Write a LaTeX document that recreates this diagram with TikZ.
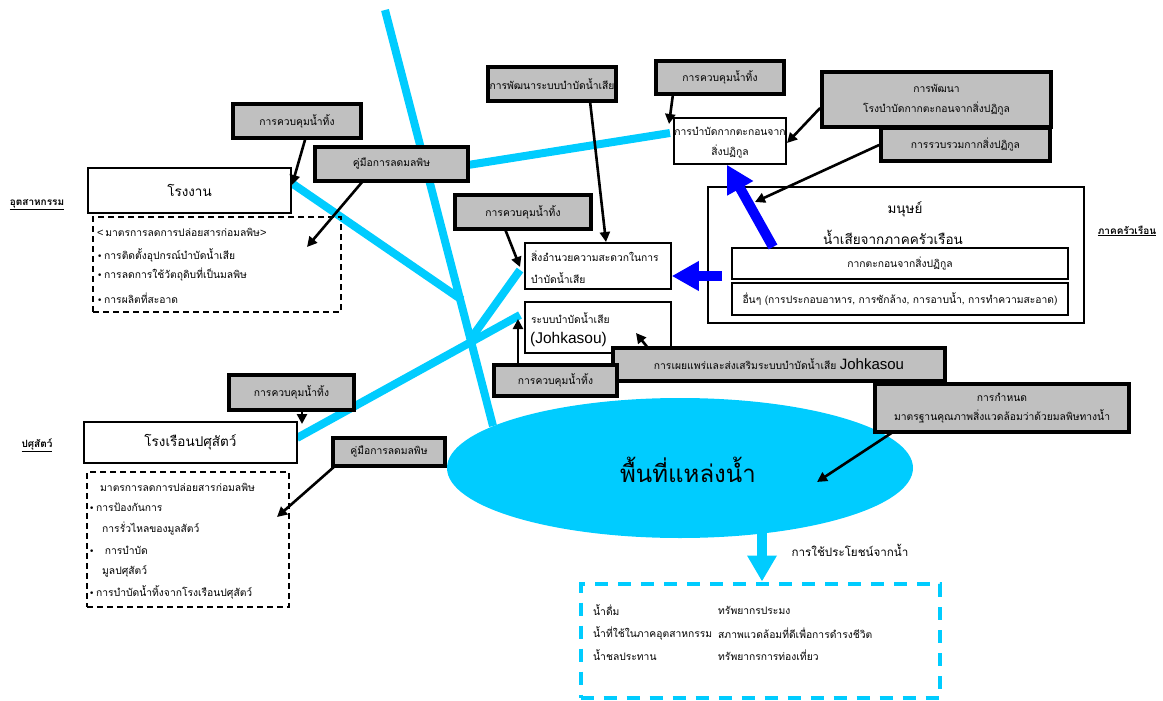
\documentclass[tikz,border=0pt]{standalone}
\usepackage{fontspec}
\setmainfont{Liberation Sans}
\newfontfamily\thai[Script=Thai]{Loma}
\newfontfamily\arialf{Liberation Sans}
\newfontfamily\symf{DejaVu Sans}
\usetikzlibrary{arrows.meta,shapes.geometric}
\definecolor{water}{RGB}{0,204,255}
\definecolor{gfill}{RGB}{192,192,192}
\definecolor{bluearrow}{RGB}{0,0,255}
\newcommand\fs[1]{\fontsize{#1}{#1}\selectfont}
\newcommand\bul{{\symf\fontsize{9}{9}\selectfont •}}
\tikzset{
  gbox/.style={draw, fill=gfill, line width=3.8pt, inner sep=0pt, align=center, font=\thai\fs{10.3}},
  wbox/.style={draw, fill=white, line width=1.6pt, inner sep=0pt},
  dbox/.style={draw, line width=1.4pt, dash pattern=on 6pt off 4pt, inner sep=0pt},
  stream/.style={draw=water, line width=8pt},
  ctl/.style={-{Triangle[length=10pt,width=10pt]}, line width=2.6pt},
  bigarrow/.style={-{Triangle[length=27pt,width=28pt]}, line width=10pt},
  txt/.style={inner sep=0pt, font=\thai\fs{10.3}},
  lbl/.style={inner sep=0pt, font=\thai\bfseries\fs{10}}
}
\begin{document}
\begin{tikzpicture}[x=1pt,y=-1pt]
\useasboundingbox (0,0) rectangle (1163,701);

% ---- streams (drawn first, behind the boxes)
\coordinate (s0) at (385,10);
\coordinate (s1) at (493,426);
\coordinate (jf) at (462,300);
\coordinate (ff) at (293,184);
\coordinate (jc) at (472,337);
\coordinate (fc) at (520,270);
\coordinate (fj) at (520,315);
\coordinate (fl) at (297,438);
\coordinate (ms) at (468,165);
\coordinate (sl) at (670,133);
\draw[stream] (s0) -- (s1);
\draw[stream] (ff) -- (jf);
\draw[stream] (fc) -- (jc);
\draw[stream] (fj) -- (fl);
\draw[stream] (ms) -- (sl);

% ---- water body
\node[ellipse, fill=water, inner sep=0pt, minimum width=466, minimum height=140] (pond) at (680,468) {};
\node[inner sep=0pt, font=\thai\fs{24}] (pondtxt) at (688,470) {พื้นที่แหล่งน้ำ};

% ---- industry
\node[lbl] (ind) at (37,205) {\underline{อุตสาหกรรม}};
\node[wbox, minimum width=203, minimum height=45] (fac) at (189.5,190.5) {};
\node[txt, font=\thai\fs{13.5}] (factxt) at (189.5,190) {โรงงาน};
\node[dbox, minimum width=248, minimum height=95] (facm) at (217,264.5) {};
\node[txt, anchor=west] (fm1) at (97,232) {{\arialf\fs{11}<}\,มาตรการลดการปล่อยสารก่อมลพิษ{\arialf\fs{11}>}};
\node[txt, anchor=west] (fm2) at (97,255) {\bul\,การติดตั้งอุปกรณ์บำบัดน้ำเสีย};
\node[txt, anchor=west] (fm3) at (97,275) {\bul\,การลดการใช้วัตถุดิบที่เป็นมลพิษ};
\node[txt, anchor=west] (fm4) at (97,298) {\bul\,การผลิตที่สะอาด};

% ---- livestock
\node[lbl] (liv) at (37,445) {\underline{ปศุสัตว์}};
\node[wbox, minimum width=213, minimum height=41] (barn) at (190.5,442.5) {};
\node[txt, font=\thai\fs{13.5}] (barntxt) at (190.5,442) {โรงเรือนปศุสัตว์};
\node[dbox, minimum width=202, minimum height=135] (barnm) at (188,539.5) {};
\node[txt, anchor=west] (bm1) at (100,487) {มาตรการลดการปล่อยสารก่อมลพิษ};
\node[txt, anchor=west] (bm2) at (89,507) {\bul\,การป้องกันการ};
\node[txt, anchor=west] (bm3) at (102,529) {การรั่วไหลของมูลสัตว์};
\node[txt, anchor=west] (bm4) at (89,550) {\bul\quad การบำบัด};
\node[txt, anchor=west] (bm5) at (102,571) {มูลปศุสัตว์};
\node[txt, anchor=west] (bm6) at (89,592) {\bul\,การบำบัดน้ำทิ้งจากโรงเรือนปศุสัตว์};

% ---- treatment facilities
\node[wbox, minimum width=112, minimum height=46] (sludge) at (730,141) {};
\node[txt] (sl1) at (730,131) {การบำบัดกากตะกอนจาก};
\node[txt] (sl2) at (730,152) {สิ่งปฏิกูล};
\node[wbox, minimum width=146, minimum height=46] (plant) at (598,266) {};
\node[txt, anchor=west] (pl1) at (531,256) {สิ่งอำนวยความสะดวกในการ};
\node[txt, anchor=west] (pl2) at (531,278) {บำบัดน้ำเสีย};
\node[wbox, minimum width=146, minimum height=51] (johk) at (598,327.5) {};
\node[txt, anchor=west] (jo1) at (531,318) {ระบบบำบัดน้ำเสีย};
\node[inner sep=0pt, anchor=west, font=\arialf\fs{15.5}] (jo2) at (530,339) {(Johkasou)};

% ---- households
\node[lbl] (hh) at (1127,231) {\underline{ภาคครัวเรือน}};
\node[wbox, minimum width=376, minimum height=136] (home) at (896,255) {};
\node[txt, font=\thai\fs{13.5}] (home1) at (905,209) {มนุษย์};
\node[txt, font=\thai\fs{13.5}] (home2) at (893,237) {น้ำเสียจากภาคครัวเรือน};
\node[wbox, line width=1.2pt, minimum width=336, minimum height=31] (night) at (900,263.5) {};
\node[txt] (nighttxt) at (900,264) {กากตะกอนจากสิ่งปฏิกูล};
\node[wbox, line width=1.2pt, minimum width=336, minimum height=32] (grey) at (900,299) {};
\node[txt] (greytxt) at (900,299) {อื่นๆ (การประกอบอาหาร, การซักล้าง, การอาบน้ำ, การทำความสะอาด)};

% ---- policy boxes
\node[gbox, minimum width=128, minimum height=34] (cA) at (297,121) {การควบคุมน้ำทิ้ง};
\node[gbox, minimum width=153, minimum height=34] (cB) at (391.5,164) {คู่มือการลดมลพิษ};
\node[gbox, minimum width=128, minimum height=34] (cC) at (552,84) {การพัฒนาระบบบำบัดน้ำเสีย};
\node[gbox, minimum width=128, minimum height=33] (cD) at (720,77.5) {การควบคุมน้ำทิ้ง};
\node[gbox, minimum width=229, minimum height=55] (cE) at (936.5,99.5) {การพัฒนา\\[8pt]โรงบำบัดกากตะกอนจากสิ่งปฏิกูล};
\node[gbox, minimum width=169, minimum height=33] (cF) at (965.5,144.5) {การรวบรวมกากสิ่งปฏิกูล};
\node[gbox, minimum width=136, minimum height=34] (cG) at (523,212) {การควบคุมน้ำทิ้ง};
\node[gbox, minimum width=332, minimum height=33] (cH) at (779,364.5) {การเผยแพร่และส่งเสริมระบบบำบัดน้ำเสีย {\arialf\fs{15}Johkasou}};
\node[gbox, minimum width=123, minimum height=31] (cI) at (555.5,380.5) {การควบคุมน้ำทิ้ง};
\node[gbox, minimum width=254, minimum height=48] (cJ) at (1002,408) {การกำหนด\\[7pt]มาตรฐานคุณภาพสิ่งแวดล้อมว่าด้วยมลพิษทางน้ำ};
\node[gbox, minimum width=125, minimum height=35] (cK) at (291.5,392.5) {การควบคุมน้ำทิ้ง};
\node[gbox, minimum width=112, minimum height=28] (cL) at (389,452) {คู่มือการลดมลพิษ};

% ---- control arrows
\coordinate (tA) at (292,185);
\coordinate (tB) at (307,247);
\coordinate (tC) at (606,242);
\coordinate (tD) at (669,124);
\coordinate (tE) at (787,143);
\coordinate (tF) at (755,202);
\coordinate (tG) at (520,267);
\coordinate (tI) at (518,319);
\coordinate (tH) at (636,333);
\coordinate (tJ) at (817,482);
\coordinate (tK) at (302,424);
\coordinate (tL) at (277,517);
\draw[ctl] (cA.south -| 305,0) -- (tA);
\draw[ctl] (363,181) -- (tB);
\draw[ctl] (590,101) -- (tC);
\draw[ctl] (673,94) -- (tD);
\draw[ctl] (cE.west |- 0,108) -- (tE);
\draw[ctl] (cF.west |- 0,145) -- (tF);
\draw[ctl] (505,229) -- (tG);
\draw[ctl] (cI.north -| 518,0) -- (tI);
\draw[ctl] (648,348) -- (tH);
\draw[ctl] (893,432) -- (tJ);
\draw[ctl] (cK.south -| 302,0) -- (tK);
\draw[ctl] (335,466) -- (tL);

% ---- household flows
\coordinate (nt) at (773,247);
\coordinate (gt) at (722,276);
\draw[bigarrow, bluearrow] (nt) -- (sludge.south -| 727,0);
\draw[bigarrow, bluearrow] (gt) -- (plant.east |- 0,276);

% ---- water use
\coordinate (po) at (762,528);
\node[dbox, draw=water, line width=4pt, dash pattern=on 13pt off 10pt, minimum width=359, minimum height=114] (use) at (760,640.5) {};
\draw[bigarrow, water, -{Triangle[length=26pt,width=28pt]}] (po) -- (use.north -| po);
\node[txt, font=\thai\fs{11.6}] (usetxt) at (850,550) {การใช้ประโยชน์จากน้ำ};
\node[txt, anchor=west] (u1) at (593,610) {น้ำดื่ม};
\node[txt, anchor=west] (u2) at (593,633) {น้ำที่ใช้ในภาคอุตสาหกรรม};
\node[txt, anchor=west] (u3) at (593,655) {น้ำชลประทาน};
\node[txt, anchor=west] (u4) at (718,610) {ทรัพยากรประมง};
\node[txt, anchor=west] (u5) at (718,633) {สภาพแวดล้อมที่ดีเพื่อการดำรงชีวิต};
\node[txt, anchor=west] (u6) at (718,655) {ทรัพยากรการท่องเที่ยว};
\end{tikzpicture}
\end{document}
